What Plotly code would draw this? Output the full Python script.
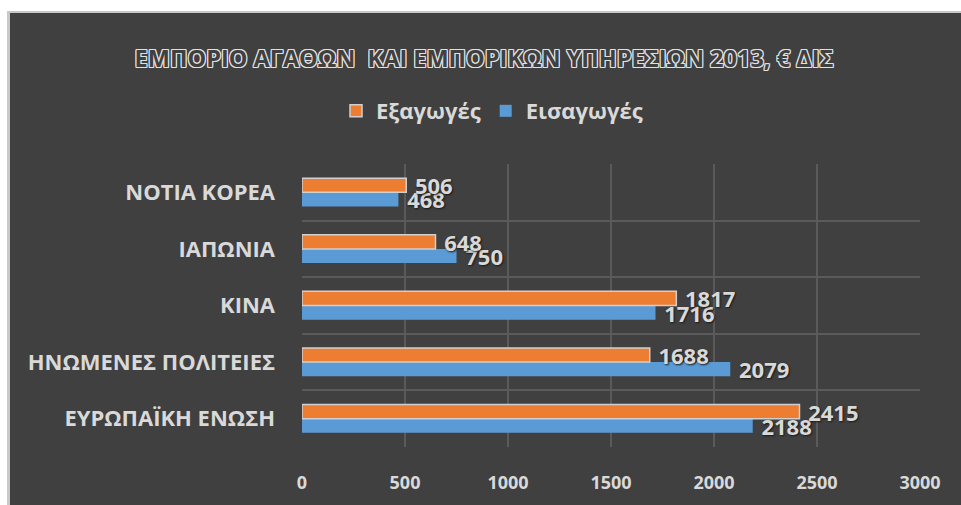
import plotly.graph_objects as go

categories = ["ΕΥΡΩΠΑΪΚΗ ΕΝΩΣΗ", "ΗΝΩΜΕΝΕΣ ΠΟΛΙΤΕΙΕΣ", "ΚΙΝΑ", "ΙΑΠΩΝΙΑ", "ΝΟΤΙΑ ΚΟΡΕΑ"]
exports = [2415, 1688, 1817, 648, 506]   # Εξαγωγές
imports = [2188, 2079, 1716, 750, 468]   # Εισαγωγές
x_ticks = [0, 500, 1000, 1500, 2000, 2500, 3000]

BG = "#404040"
TXT = "#d9d9d9"
FONT = "'Open Sans', 'Noto Sans', sans-serif"
label_shadow = "1px 1px 2px #1a1a1a"

fig = go.Figure()
fig.add_trace(go.Bar(
    y=categories, x=imports, orientation="h", name="Εισαγωγές",
    marker=dict(color="#5B9BD5", line=dict(width=0)),
    texttemplate="\u00a0%{x}", textposition="outside", cliponaxis=False, constraintext="none",
    textfont=dict(family=FONT, size=22, color=TXT, weight="bold", shadow=label_shadow),
    legendrank=2,
))
fig.add_trace(go.Bar(
    y=categories, x=exports, orientation="h", name="Εξαγωγές",
    marker=dict(color="#ED7D31", line=dict(width=1.5, color="#d0d0d0")),
    texttemplate="\u00a0%{x}", textposition="outside", cliponaxis=False, constraintext="none",
    textfont=dict(family=FONT, size=22, color=TXT, weight="bold", shadow=label_shadow),
    legendrank=1,
))

W, H = 961, 505
L, R, T, B = 302, 41, 164, 58
pw, ph = W - L - R, H - T - B

def px_x(p):
    return (p - L) / pw

def px_y(p):
    return (H - B - p) / ph

# chart-area frame: light strip along the top and left edges
shapes = [
    dict(type="rect", xref="paper", yref="paper", x0=px_x(-2), x1=px_x(7), y0=px_y(H + 2), y1=px_y(-2),
         fillcolor="white", line=dict(width=0)),
    dict(type="rect", xref="paper", yref="paper", x0=px_x(-2), x1=px_x(W + 2), y0=px_y(11), y1=px_y(-2),
         fillcolor="white", line=dict(width=0)),
    dict(type="rect", xref="paper", yref="paper", x0=px_x(7), x1=px_x(10), y0=px_y(H + 2), y1=px_y(11),
         fillcolor="#c8c8c8", line=dict(width=0)),
    dict(type="rect", xref="paper", yref="paper", x0=px_x(7), x1=px_x(W + 2), y0=px_y(13), y1=px_y(11),
         fillcolor="#c8c8c8", line=dict(width=0)),
]

outline = ("1px 0 0 #e0e0e0, -1px 0 0 #e0e0e0, 0 1px 0 #e0e0e0, 0 -1px 0 #e0e0e0, "
           "1px 1px 0 #e0e0e0, -1px -1px 0 #e0e0e0, 1px -1px 0 #e0e0e0, -1px 1px 0 #e0e0e0")

fig.update_layout(
    width=W, height=H,
    margin=dict(l=L, r=R, t=T, b=B, autoexpand=False),
    paper_bgcolor=BG, plot_bgcolor=BG,
    barmode="group", bargap=0.5, bargroupgap=0,
    title=dict(
        text="ΕΜΠΟΡΙΟ ΑΓΑΘΩΝ  ΚΑΙ ΕΜΠΟΡΙΚΩΝ ΥΠΗΡΕΣΙΩΝ 2013, € ΔΙΣ",
        x=484 / W, xref="container", xanchor="center",
        y=1 - 59 / H, yref="container", yanchor="middle",
        font=dict(family=FONT, size=23.5, color=BG, weight="bold", shadow=outline),
    ),
    legend=dict(
        orientation="h", xref="container", yref="container",
        x=492 / W, xanchor="center", y=1 - 111 / H, yanchor="middle",
        font=dict(family=FONT, size=22, color=TXT, weight="bold"),
        bgcolor="rgba(0,0,0,0)", itemwidth=30,
    ),
    xaxis=dict(
        range=[0, 3000], tickvals=x_ticks, showgrid=True, gridcolor="#5a5a5a", gridwidth=1.5,
        zeroline=False, showline=False,
        tickfont=dict(family=FONT, size=18, color=TXT, weight="bold"),
        ticklabelstandoff=23,
    ),
    yaxis=dict(
        type="category", categoryorder="array", categoryarray=categories,
        tickson="boundaries", showgrid=True, gridcolor="#5a5a5a", gridwidth=1.5,
        ticks="", showline=False, zeroline=False,
        tickfont=dict(family=FONT, size=22, color=TXT, weight="bold"),
        ticklabelstandoff=26,
    ),
    shapes=shapes,
)

fig.write_html(
    "out.html",
    config={"displayModeBar": False},
    post_script=("document.body.style.margin='0';document.body.style.overflow='hidden';"
                 "document.body.style.background='#404040';"),
)
